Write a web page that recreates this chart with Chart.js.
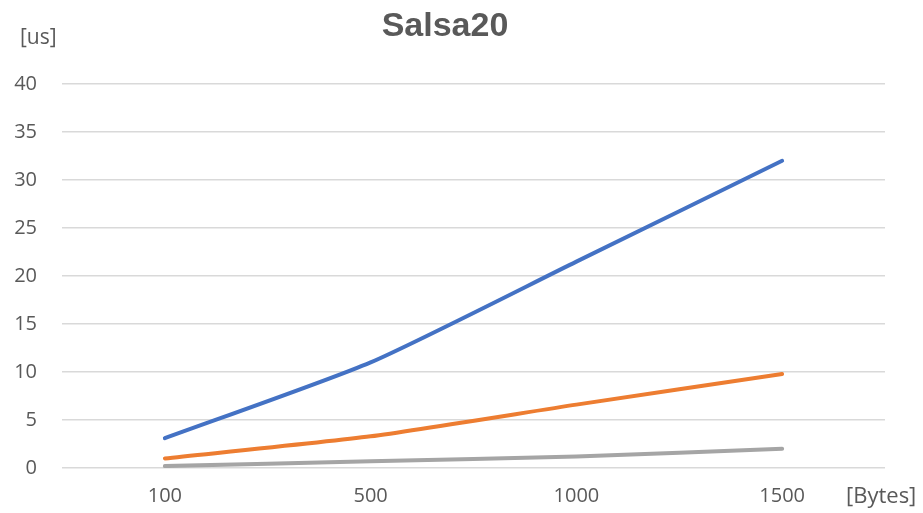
<!DOCTYPE html>
<html>
<head>
<meta charset="utf-8">
<script src="https://cdn.jsdelivr.net/npm/chart.js@4/dist/chart.umd.min.js"></script>
<style>
  html, body { margin: 0; padding: 0; background: #ffffff; }
  #wrap { width: 923px; height: 513px; }
</style>
</head>
<body>
<div id="wrap"><canvas id="c" width="923" height="513"></canvas></div>
<script>
// Message sizes in bytes
const sizes = ['100', '500', '1000', '1500'];
// Processing time in microseconds for each series
const seriesBlue = [3.1, 11.0, 21.5, 32.0];
const seriesOrange = [1.0, 3.3, 6.6, 9.8];
const seriesGray = [0.2, 0.7, 1.2, 2.0];
const yTicks = [0, 5, 10, 15, 20, 25, 30, 35, 40];

const textColor = '#595959';
const labelFont = '"Open Sans", Lato, sans-serif';

// Title and axis unit captions
const captions = {
  id: 'captions',
  afterDraw(chart) {
    const ctx = chart.ctx;
    ctx.save();
    ctx.fillStyle = textColor;
    ctx.textBaseline = 'middle';
    ctx.font = 'bold 34px "Liberation Sans", Arial, sans-serif';
    ctx.textAlign = 'center';
    ctx.fillText('Salsa20', 445, 27);
    ctx.font = '21px ' + labelFont;
    ctx.textAlign = 'left';
    ctx.fillText('[us]', 20, 38);
    ctx.font = '22px ' + labelFont;
    ctx.fillText('[Bytes]', 846, 497);
    ctx.restore();
  }
};

const line = (data, color) => ({
  data,
  borderColor: color,
  backgroundColor: color,
  borderWidth: 4,
  pointRadius: 0,
  fill: false,
  tension: 0.2,
  borderCapStyle: 'round'
});

new Chart(document.getElementById('c'), {
  type: 'line',
  data: {
    labels: sizes,
    datasets: [
      line(seriesGray, '#A5A5A5'),
      line(seriesOrange, '#ED7D31'),
      line(seriesBlue, '#4472C4')
    ]
  },
  options: {
    responsive: false,
    animation: false,
    layout: { padding: { left: 0, right: 38, top: 84, bottom: 0 } },
    plugins: { legend: { display: false }, title: { display: false }, tooltip: { enabled: false } },
    scales: {
      x: {
        offset: true,
        grid: { display: false, drawTicks: false },
        border: { display: false },
        ticks: { color: textColor, font: { family: labelFont, size: 20 }, padding: 16, maxRotation: 0 },
        afterFit(s) { s.height = 45; }
      },
      y: {
        min: 0,
        max: 40,
        afterBuildTicks(s) { s.ticks = yTicks.map(v => ({ value: v })); },
        grid: { color: '#d9d9d9', lineWidth: 1.5, drawTicks: false },
        border: { display: false },
        ticks: { color: textColor, font: { family: labelFont, size: 20 }, padding: 25 },
        afterFit(s) { s.width = 62; }
      }
    }
  },
  plugins: [captions]
});
</script>
</body>
</html>
